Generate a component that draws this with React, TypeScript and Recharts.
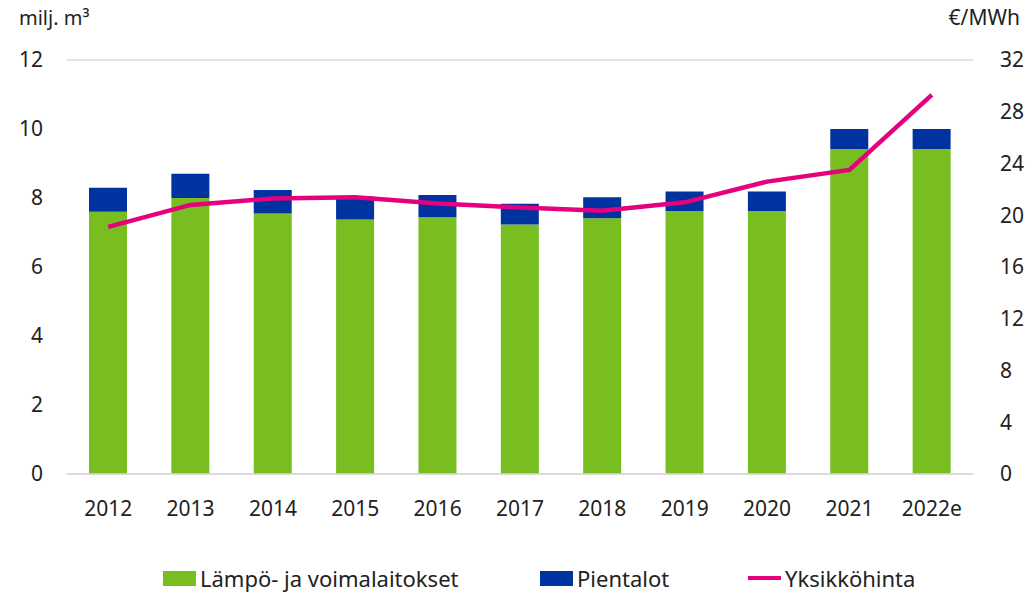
import React from 'react';
import {
  ComposedChart, Bar, Line, XAxis, YAxis, CartesianGrid, Legend
} from 'recharts';

const years = ['2012', '2013', '2014', '2015', '2016', '2017', '2018', '2019', '2020', '2021', '2022e'];
const voimalaitokset = [7.6, 8.0, 7.55, 7.38, 7.44, 7.23, 7.41, 7.62, 7.62, 9.42, 9.42];
const pientalot = [0.7, 0.7, 0.68, 0.66, 0.65, 0.6, 0.61, 0.57, 0.57, 0.58, 0.58];
const yksikkohinta = [19.1, 20.8, 21.3, 21.4, 20.9, 20.6, 20.35, 21.0, 22.6, 23.5, 29.3];

const leftTicks = [0, 2, 4, 6, 8, 10, 12];
const rightTicks = [0, 4, 8, 12, 16, 20, 24, 28, 32];

const GREEN = '#78BE21';
const BLUE = '#0033A0';
const PINK = '#E5007E';
const FONT = '"Noto Sans", "Open Sans", sans-serif';

const data = years.map((y, i) => ({
  year: y,
  lampo: voimalaitokset[i],
  pien: pientalot[i],
  hinta: yksikkohinta[i],
}));

const legendItems = [
  { name: 'Lämpö- ja voimalaitokset', color: GREEN, type: 'rect', left: 163 },
  { name: 'Pientalot', color: BLUE, type: 'rect', left: 540 },
  { name: 'Yksikköhinta', color: PINK, type: 'line', left: 748 },
];

const ChartLegend = () => (
  <div style={{ position: 'relative', width: 1030, height: 30, fontFamily: FONT, fontSize: 22, color: '#222' }}>
    {legendItems.map((it) => (
      <div key={it.name} style={{ position: 'absolute', left: it.left, top: 0, display: 'flex', alignItems: 'center', height: 30 }}>
        {it.type === 'rect' ? (
          <span style={{ display: 'inline-block', width: 33, height: 15, background: it.color }} />
        ) : (
          <span style={{ display: 'inline-block', width: 33, height: 4, background: it.color }} />
        )}
        <span style={{ marginLeft: 4 }}>{it.name}</span>
      </div>
    ))}
  </div>
);

const tickStyle = { fontSize: 21, fill: '#222', fontFamily: FONT };

export default function App() {
  return (
    <div style={{ position: 'absolute', left: 0, top: 0, width: 1030, height: 595, background: '#fff', fontFamily: FONT }}>
      <div style={{ position: 'absolute', left: 19, top: 4, fontSize: 20, color: '#222' }}>
        milj. m³
      </div>
      <div style={{ position: 'absolute', right: 10, top: 3, fontSize: 21, color: '#222' }}>
        €/MWh
      </div>
      <ComposedChart
        width={1030}
        height={595}
        data={data}
        margin={{ top: 60, right: 7, bottom: 61, left: 17 }}
      >
        <CartesianGrid vertical={false} stroke="#d9d9d9" strokeWidth={1.5} />
        <XAxis
          dataKey="year"
          tick={tickStyle}
          tickLine={false}
          axisLine={{ stroke: '#d9d9d9', strokeWidth: 1.5 }}
          tickSize={0}
          tickMargin={27}
          height={30}
        />
        <YAxis
          yAxisId="left"
          domain={[0, 12]}
          ticks={leftTicks}
          tick={tickStyle}
          tickLine={false}
          axisLine={false}
          tickSize={0}
          tickMargin={24}
          width={50}
        />
        <YAxis
          yAxisId="right"
          orientation="right"
          domain={[0, 32]}
          ticks={rightTicks}
          tick={{ ...tickStyle, textAnchor: 'start' }}
          tickLine={false}
          axisLine={false}
          tickSize={0}
          tickMargin={27}
          width={50}
        />
        <Bar yAxisId="left" dataKey="lampo" name="Lämpö- ja voimalaitokset" stackId="a" fill={GREEN} barSize={38} isAnimationActive={false} />
        <Bar yAxisId="left" dataKey="pien" name="Pientalot" stackId="a" fill={BLUE} barSize={38} isAnimationActive={false} />
        <Line
          yAxisId="right"
          dataKey="hinta"
          name="Yksikköhinta"
          type="linear"
          stroke={PINK}
          strokeWidth={4.5}
          dot={false}
          activeDot={false}
          isAnimationActive={false}
        />
        <Legend
          verticalAlign="bottom"
          content={() => <ChartLegend />}
          wrapperStyle={{ left: 0, bottom: 2, width: 1030, height: 30 }}
        />
      </ComposedChart>
    </div>
  );
}
